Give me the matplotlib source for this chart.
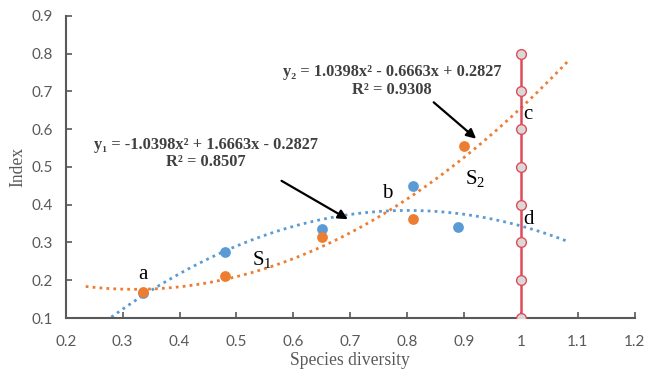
import numpy as np
import matplotlib.pyplot as plt

plt.rcParams["mathtext.fontset"] = "custom"
plt.rcParams["mathtext.rm"] = "Liberation Serif"

# ---------------------------------------------------------------------------
# Data
# ---------------------------------------------------------------------------
blue_x = [0.335, 0.48, 0.65, 0.81, 0.89]
blue_y = [0.165, 0.275, 0.335, 0.45, 0.34]
orange_x = [0.335, 0.48, 0.65, 0.81, 0.90]
orange_y = [0.168, 0.21, 0.315, 0.363, 0.555]

# trendline coefficients as printed on the chart (highest power first)
coef_1 = [-1.0398, 1.6663, -0.2827]
coef_2 = [1.0398, -0.6663, 0.2827]
fit1_range = (0.28, 1.085)
fit2_range = (0.235, 1.085)

line_x = [1.0] * 8
line_y = [0.1, 0.2, 0.3, 0.4, 0.5, 0.6, 0.7, 0.8]

BLUE = "#5B9BD5"
ORANGE = "#ED7D31"
RED = "#E04B5A"
GRAY = "#595959"
SERIF = ["Liberation Serif", "DejaVu Serif"]

fig = plt.figure(figsize=(6.45, 3.7), dpi=100)
ax = fig.add_axes([0.102, 0.1405, 0.882, 0.8165])

# trendlines
x1 = np.linspace(*fit1_range, 200)
x2 = np.linspace(*fit2_range, 200)
ax.plot(x1, np.polyval(coef_1, x1), color=BLUE, ls=(0, (1, 1.5)), lw=2.0, zorder=2)
ax.plot(x2, np.polyval(coef_2, x2), color=ORANGE, ls=(0, (1, 1.5)), lw=2.0, zorder=2)

# points
ax.scatter(blue_x, blue_y, s=60, color=BLUE, zorder=3, linewidths=0)
ax.scatter(orange_x, orange_y, s=60, color=ORANGE, zorder=4, linewidths=0)

# vertical red line with markers
ax.plot(line_x, line_y, color=RED, lw=1.8, marker="o", markersize=7,
        markerfacecolor="#D9D9D9", markeredgecolor=RED, markeredgewidth=1.0, zorder=5)

# point labels
lab_kw = dict(family=SERIF, fontsize=15, color="black")
ax.text(0.335, 0.19, "a", ha="center", va="bottom", **lab_kw)
ax.text(0.765, 0.405, "b", ha="center", va="bottom", **lab_kw)
ax.text(1.005, 0.64, "c", ha="left", va="center", **lab_kw)
ax.text(1.005, 0.36, "d", ha="left", va="center", **lab_kw)
ax.text(0.545, 0.255, r"$\mathrm{S_1}$", ha="center", va="center", **lab_kw)
ax.text(0.92, 0.47, r"$\mathrm{S_2}$", ha="center", va="center", **lab_kw)

# equations
eq_kw = dict(family=SERIF, fontsize=11.8, fontweight="bold",
             color="#404040", ha="center", va="center")
ax.text(0.446, 0.558, "y₁ = -1.0398x² + 1.6663x - 0.2827", **eq_kw)
ax.text(0.446, 0.513, "R² = 0.8507", **eq_kw)
ax.text(0.773, 0.752, "y₂ = 1.0398x² - 0.6663x + 0.2827", **eq_kw)
ax.text(0.773, 0.704, "R² = 0.9308", **eq_kw)

arrow_kw = dict(arrowstyle="-|>", color="black", lw=1.6, mutation_scale=14)
ax.annotate("", xy=(0.70, 0.358), xytext=(0.575, 0.467), arrowprops=arrow_kw)
ax.annotate("", xy=(0.925, 0.57), xytext=(0.843, 0.676), arrowprops=arrow_kw)

# axes
ax.set_xlim(0.2, 1.2)
ax.set_ylim(0.1, 0.9)
ax.set_xticks(np.arange(0.2, 1.21, 0.1))
ax.set_xticklabels(["0.2", "0.3", "0.4", "0.5", "0.6", "0.7", "0.8", "0.9", "1", "1.1", "1.2"])
ax.set_yticks(np.arange(0.1, 0.91, 0.1))
ax.set_yticklabels([f"{v:.1f}" for v in np.arange(0.1, 0.91, 0.1)])
for s in ["top", "right"]:
    ax.spines[s].set_visible(False)
for s in ["left", "bottom"]:
    ax.spines[s].set_color(GRAY)
    ax.spines[s].set_linewidth(1.5)
ax.tick_params(direction="in", length=4, width=1.2, color=GRAY,
               labelcolor=GRAY, labelsize=11)
ax.tick_params(axis="x", pad=12)
ax.tick_params(axis="y", pad=9)
for t in ax.get_xticklabels() + ax.get_yticklabels():
    t.set_family("Lato")
ax.set_xlabel("Species diversity", family=SERIF, fontsize=12.7, color=GRAY, va="center")
ax.set_ylabel("Index", family=SERIF, fontsize=12.7, color=GRAY, va="center")
ax.xaxis.set_label_coords(0.5, -0.142)
ax.yaxis.set_label_coords(-0.084, 0.5)

fig.savefig("out.png", dpi=100)
